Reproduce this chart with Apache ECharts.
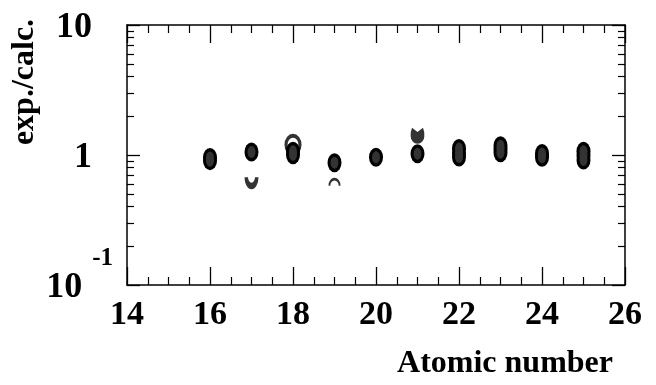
<!DOCTYPE html>
<html>
<head>
<meta charset="utf-8">
<script src="https://cdn.jsdelivr.net/npm/echarts@6/dist/echarts.min.js"></script>
<style>
html,body{margin:0;padding:0;background:#fff;}
#chart{width:656px;height:385px;}
</style>
</head>
<body>
<div id="chart"></div>
<script>
// ---- data ----
const xTickLabels = [14, 16, 18, 20, 22, 24, 26];
const yMajorTicks = [0.1, 1, 10];
const yMinorTicks = [0.2, 0.3, 0.4, 0.5, 0.6, 0.7, 0.8, 0.9, 2, 3, 4, 5, 6, 7, 8, 9];

// filled markers (several overlapping per element)
const filledZ     = [16, 16, 17, 18, 18, 19, 20, 21, 22, 22, 22, 23, 23, 23, 24, 24, 25, 25, 25];
const filledRatio = [0.957, 0.905, 1.055, 1.07, 1.004, 0.871, 0.962, 1.021, 1.122, 1.036, 0.965, 1.18, 1.112, 1.04, 1.027, 0.962, 1.07, 0.991, 0.915];
// open marker (partly hidden behind filled ones)
const openZ     = [18];
const openRatio = [1.2];
// lower crescent marker
const lowArcZ     = [17];
const lowArcRatio = [0.606];
// upper arc marker
const upArcZ     = [19];
const upArcRatio = [0.623];
// notched filled marker
const notchZ     = [21];
const notchRatio = [1.405];

const xAxisTitle = 'Atomic number';
const yAxisTitle = 'exp./calc.';

function pairs(xs, ys) { return xs.map((x, i) => [x, ys[i]]); }

const SERIF = '"Liberation Serif", "Times New Roman", serif';
const chart = echarts.init(document.getElementById('chart'), null, {renderer: 'canvas'});

const lineStyle = {color: '#000', width: 1.5};

function xAxisDef(pos, showLabel) {
  return {
    type: 'value', position: pos, min: 14, max: 26, interval: 2,
    axisLine: {show: true, onZero: false, lineStyle: lineStyle},
    axisTick: {show: true, inside: true, length: 18, lineStyle: {color: '#000', width: 1.3}},
    minorTick: {show: true, splitNumber: 4, length: 8, lineStyle: {color: '#000', width: 1.2}},
    splitLine: {show: false}, minorSplitLine: {show: false},
    axisLabel: {
      show: showLabel, margin: 13, color: '#000',
      fontFamily: SERIF, fontWeight: 'bold', fontSize: 34,
      customValues: xTickLabels
    }
  };
}

function yMajorDef(pos, showLabel) {
  return {
    type: 'log', logBase: 10, position: pos, min: 0.1, max: 10,
    axisLine: {show: true, onZero: false, lineStyle: lineStyle},
    axisTick: {show: true, inside: true, length: 13, lineStyle: {color: '#000', width: 1.3}, customValues: yMajorTicks},
    splitLine: {show: false},
    axisLabel: {
      show: showLabel, margin: 14, color: '#000', customValues: yMajorTicks,
      formatter: function (v) {
        if (Math.abs(v - 0.1) < 1e-9) return '{b|10}{sup|-1}';
        if (Math.abs(v - 1) < 1e-9) return '{b|1}{pad|}';
        return '{b|10}{pad|}';
      },
      rich: {
        b: {fontFamily: SERIF, fontWeight: 'bold', fontSize: 36, lineHeight: 90, color: '#000', padding: [6, 0, 0, 0]},
        sup: {fontFamily: SERIF, fontWeight: 'bold', fontSize: 25, lineHeight: 50, verticalAlign: 'top', padding: [6, 0, 0, 10], color: '#000'},
        pad: {width: 21}
      }
    }
  };
}

function yMinorDef(pos) {
  return {
    type: 'log', logBase: 10, position: pos, min: 0.1, max: 10,
    axisLine: {show: false},
    axisTick: {show: true, inside: true, length: 7, lineStyle: {color: '#000', width: 1.2}, customValues: yMinorTicks},
    splitLine: {show: false},
    axisLabel: {show: false}
  };
}

const uPath = 'path://M0,0 L5,0 A5,4.5 0 0 0 15,0 L20,0 A10,10 0 0 1 0,0 Z';
const capPath = 'path://M0,10 A10,10 0 0 1 20,10 L17,10 A7,6.5 0 0 0 3,10 Z';
const notchPath = 'path://M2,0 L10,5 L18,0 Q21,6 20,10 A10,9 0 0 1 0,10 Q-1,6 2,0 Z';

const filledData = pairs(filledZ, filledRatio);

const option = {
  backgroundColor: '#fff',
  animation: false,
  grid: {left: 127, right: 31, top: 25, bottom: 100, containLabel: false},
  xAxis: [xAxisDef('bottom', true), xAxisDef('top', false)],
  yAxis: [yMajorDef('left', true), yMinorDef('left'), yMajorDef('right', false), yMinorDef('right')],
  series: [
    {
      type: 'scatter', name: 'open', xAxisIndex: 0, yAxisIndex: 0,
      data: pairs(openZ, openRatio), symbol: 'circle', symbolSize: [14, 18],
      itemStyle: {color: '#fff', borderColor: '#000', borderWidth: 3.5}
    },
    {
      type: 'scatter', name: 'filled-outline', xAxisIndex: 0, yAxisIndex: 0,
      data: filledData, symbol: 'circle', symbolSize: [14, 19],
      itemStyle: {color: '#000', opacity: 1}
    },
    {
      type: 'scatter', name: 'filled-core', xAxisIndex: 0, yAxisIndex: 0,
      data: filledData, symbol: 'circle', symbolSize: [8, 12],
      itemStyle: {color: '#333', opacity: 1}
    },
    {
      type: 'scatter', name: 'lowArc', xAxisIndex: 0, yAxisIndex: 0,
      data: pairs(lowArcZ, lowArcRatio), symbol: uPath, symbolSize: [14, 12],
      itemStyle: {color: '#000'}
    },
    {
      type: 'scatter', name: 'upArc', xAxisIndex: 0, yAxisIndex: 0,
      data: pairs(upArcZ, upArcRatio), symbol: capPath, symbolSize: [12, 8],
      itemStyle: {color: '#000'}
    },
    {
      type: 'scatter', name: 'notch', xAxisIndex: 0, yAxisIndex: 0,
      data: pairs(notchZ, notchRatio), symbol: notchPath, symbolSize: [14, 16],
      itemStyle: {color: '#000'}
    }
  ],
  graphic: [
    {
      type: 'text', x: 25, y: 82, rotation: Math.PI / 2,
      style: {text: yAxisTitle, align: 'center', verticalAlign: 'middle',
        font: 'bold 32px ' + SERIF, fill: '#000'}
    },
    {
      type: 'text', x: 613, y: 364,
      style: {text: xAxisTitle, align: 'right', verticalAlign: 'middle',
        font: 'bold 32px ' + SERIF, fill: '#000'}
    }
  ]
};
chart.setOption(option);
</script>
</body>
</html>
